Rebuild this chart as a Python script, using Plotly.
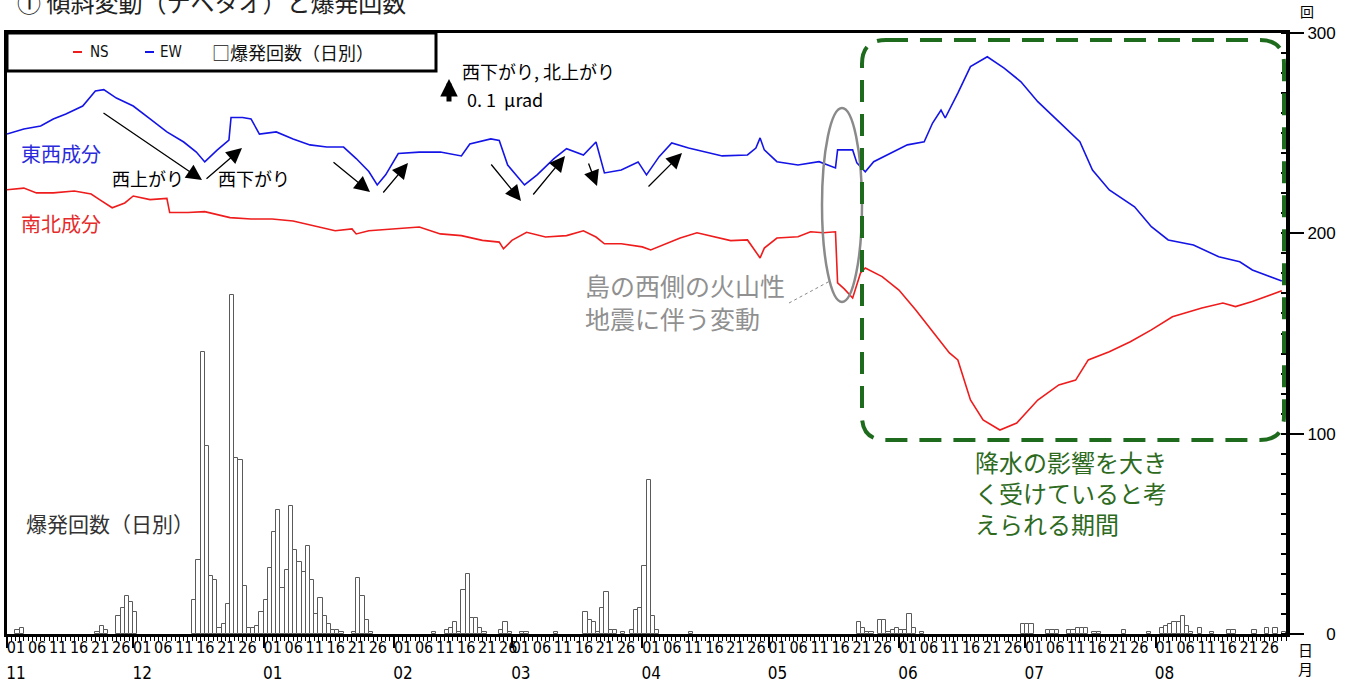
import pandas as pd
import plotly.graph_objects as go

# ---------------- data ----------------
month_labels = ["11", "12", "01", "02", "03", "04", "05", "06", "07", "08"]
day_labels = ["01", "06", "11", "16", "21", "26"]

# daily explosion counts (days not listed: 0)
bar_dates = [
    "2020-11-03", "2020-11-04", "2020-11-22", "2020-11-23", "2020-11-24",
    "2020-11-27", "2020-11-28", "2020-11-29", "2020-11-30", "2020-12-01",
    "2020-12-15", "2020-12-16", "2020-12-17", "2020-12-18", "2020-12-19",
    "2020-12-20", "2020-12-21", "2020-12-22", "2020-12-23", "2020-12-24",
    "2020-12-25", "2020-12-26", "2020-12-27", "2020-12-28", "2020-12-29",
    "2020-12-30", "2020-12-31", "2021-01-01", "2021-01-02", "2021-01-03",
    "2021-01-04", "2021-01-05", "2021-01-06", "2021-01-07", "2021-01-08",
    "2021-01-09", "2021-01-10", "2021-01-11", "2021-01-12", "2021-01-13",
    "2021-01-14", "2021-01-15", "2021-01-16", "2021-01-17", "2021-01-18",
    "2021-01-19", "2021-01-22", "2021-01-23", "2021-01-24", "2021-01-25",
    "2021-01-26", "2021-02-10", "2021-02-13", "2021-02-14", "2021-02-15",
    "2021-02-16", "2021-02-17", "2021-02-18", "2021-02-19", "2021-02-20",
    "2021-02-21", "2021-02-22", "2021-02-26", "2021-02-27", "2021-02-28",
    "2021-03-03", "2021-03-04", "2021-03-11", "2021-03-18", "2021-03-19",
    "2021-03-20", "2021-03-21", "2021-03-22", "2021-03-23", "2021-03-24",
    "2021-03-25", "2021-03-27", "2021-03-29", "2021-03-30", "2021-03-31",
    "2021-04-01", "2021-04-02", "2021-04-03", "2021-04-04", "2021-04-12",
    "2021-05-22", "2021-05-23", "2021-05-24", "2021-05-25", "2021-05-27",
    "2021-05-28", "2021-05-29", "2021-05-30", "2021-05-31", "2021-06-01",
    "2021-06-02", "2021-06-03", "2021-06-04", "2021-06-06", "2021-06-30",
    "2021-07-01", "2021-07-02", "2021-07-06", "2021-07-07", "2021-07-08",
    "2021-07-11", "2021-07-12", "2021-07-13", "2021-07-14", "2021-07-15",
    "2021-07-17", "2021-07-18", "2021-07-24", "2021-07-30", "2021-08-02",
    "2021-08-03", "2021-08-04", "2021-08-05", "2021-08-06", "2021-08-07",
    "2021-08-08", "2021-08-09", "2021-08-11", "2021-08-14", "2021-08-18",
    "2021-08-19", "2021-08-24", "2021-08-27", "2021-08-29", "2021-08-31",
]
bar_counts = [
    2, 3, 1, 4, 2,
    9, 13, 19, 16, 11,
    17, 37, 141, 94, 29,
    27, 3, 5, 15, 169,
    88, 87, 24, 3, 3,
    4, 11, 17, 33, 51,
    62, 23, 32, 64, 42,
    36, 31, 44, 27, 10,
    18, 9, 5, 2, 2,
    1, 1, 28, 19, 7,
    1, 1, 2, 3, 6,
    1, 22, 30, 8, 8,
    3, 1, 2, 6, 1,
    1, 1, 1, 11, 7,
    6, 1, 13, 21, 2,
    2, 1, 2, 12, 13,
    34, 77, 9, 2, 1,
    6, 3, 1, 1, 7,
    7, 1, 2, 3, 2,
    2, 10, 3, 1, 5,
    5, 5, 2, 2, 2,
    2, 2, 3, 3, 3,
    1, 1, 2, 1, 3,
    4, 5, 6, 6, 9,
    4, 1, 3, 1, 2,
    2, 2, 3, 3, 1,
]

# tilt, east-west component (μrad, arbitrary offset)
ew_dates = [
    "2020-11-01", "2020-11-05", "2020-11-09", "2020-11-12", "2020-11-15",
    "2020-11-19", "2020-11-22", "2020-11-24", "2020-11-27", "2020-12-01",
    "2020-12-05", "2020-12-09", "2020-12-13", "2020-12-16", "2020-12-18",
    "2020-12-21", "2020-12-23 18:00", "2020-12-24 06:00", "2020-12-27", "2020-12-29",
    "2020-12-31", "2021-01-04", "2021-01-08", "2021-01-12", "2021-01-16",
    "2021-01-20", "2021-01-23", "2021-01-26", "2021-01-28", "2021-01-30",
    "2021-02-02", "2021-02-07", "2021-02-12", "2021-02-17", "2021-02-19",
    "2021-02-24", "2021-02-26", "2021-02-28", "2021-03-04", "2021-03-07",
    "2021-03-11", "2021-03-14", "2021-03-18", "2021-03-21", "2021-03-23",
    "2021-03-27", "2021-03-31", "2021-04-02", "2021-04-05", "2021-04-08",
    "2021-04-12", "2021-04-16", "2021-04-20", "2021-04-26", "2021-04-28",
    "2021-04-29", "2021-04-30", "2021-05-03", "2021-05-08", "2021-05-13",
    "2021-05-16 22:00", "2021-05-17 10:00", "2021-05-21", "2021-05-22", "2021-05-24",
    "2021-05-26", "2021-05-30", "2021-06-03", "2021-06-07", "2021-06-09",
    "2021-06-11", "2021-06-12", "2021-06-15", "2021-06-18", "2021-06-22",
    "2021-06-26", "2021-06-30", "2021-07-04", "2021-07-09", "2021-07-14",
    "2021-07-17", "2021-07-21", "2021-07-27", "2021-07-31", "2021-08-04",
    "2021-08-10", "2021-08-16", "2021-08-21", "2021-08-24", "2021-08-31",
]
ew_tilt = [
    2.083, 2.104, 2.117, 2.146, 2.167,
    2.200, 2.263, 2.268, 2.233, 2.200,
    2.146, 2.092, 2.050, 2.008, 1.967,
    2.017, 2.058, 2.152, 2.152, 2.146,
    2.083, 2.092, 2.063, 2.038, 2.029,
    2.029, 1.981, 1.927, 1.871, 1.913,
    2.002, 2.008, 2.008, 1.992, 2.042,
    2.063, 2.056, 1.954, 1.871, 1.913,
    1.981, 2.022, 1.996, 2.050, 1.921,
    1.933, 1.967, 1.913, 1.989, 2.046,
    2.025, 2.010, 1.992, 1.996, 2.025,
    2.067, 2.017, 1.968, 1.954, 1.968,
    1.942, 2.017, 2.017, 1.963, 1.926,
    1.968, 2.004, 2.038, 2.051, 2.129,
    2.183, 2.150, 2.254, 2.364, 2.405,
    2.358, 2.301, 2.218, 2.135, 2.051,
    1.933, 1.850, 1.780, 1.697, 1.642,
    1.621, 1.572, 1.551, 1.517, 1.471,
]

# tilt, north-south component (μrad, arbitrary offset)
ns_dates = [
    "2020-11-01", "2020-11-05", "2020-11-08", "2020-11-12", "2020-11-17",
    "2020-11-21", "2020-11-23", "2020-11-26", "2020-11-29", "2020-12-01",
    "2020-12-05", "2020-12-09 00:00", "2020-12-09 16:00", "2020-12-14", "2020-12-18",
    "2020-12-24", "2020-12-29", "2021-01-03", "2021-01-08", "2021-01-13",
    "2021-01-18", "2021-01-22", "2021-01-23", "2021-01-26", "2021-02-02",
    "2021-02-07", "2021-02-12", "2021-02-17", "2021-02-22", "2021-02-26",
    "2021-02-27", "2021-03-01", "2021-03-04 12:00", "2021-03-09", "2021-03-14",
    "2021-03-18", "2021-03-21", "2021-03-23", "2021-03-27", "2021-04-01",
    "2021-04-03", "2021-04-07", "2021-04-10", "2021-04-14", "2021-04-18",
    "2021-04-22", "2021-04-26", "2021-04-29", "2021-04-30", "2021-05-03",
    "2021-05-08", "2021-05-11", "2021-05-14", "2021-05-16 22:00", "2021-05-17 10:00",
    "2021-05-19", "2021-05-21", "2021-05-22 21:00", "2021-05-24", "2021-05-28",
    "2021-06-01", "2021-06-05", "2021-06-09", "2021-06-13", "2021-06-15",
    "2021-06-18", "2021-06-21", "2021-06-25", "2021-06-29", "2021-07-04",
    "2021-07-09", "2021-07-13", "2021-07-16", "2021-07-21", "2021-07-26",
    "2021-07-31", "2021-08-05", "2021-08-12", "2021-08-17", "2021-08-20",
    "2021-08-24", "2021-08-31",
]
ns_tilt = [
    1.851, 1.858, 1.838, 1.838, 1.846,
    1.833, 1.810, 1.776, 1.796, 1.825,
    1.810, 1.815, 1.756, 1.756, 1.760,
    1.735, 1.729, 1.729, 1.721, 1.701,
    1.680, 1.688, 1.667, 1.680, 1.688,
    1.696, 1.667, 1.660, 1.640, 1.633,
    1.605, 1.640, 1.674, 1.654, 1.660,
    1.680, 1.654, 1.626, 1.626, 1.613,
    1.600, 1.629, 1.650, 1.672, 1.655,
    1.639, 1.642, 1.567, 1.608, 1.650,
    1.655, 1.676, 1.672, 1.676, 1.463,
    1.438, 1.400, 1.504, 1.525, 1.489,
    1.433, 1.350, 1.260, 1.171, 1.142,
    0.975, 0.892, 0.850, 0.879, 0.975,
    1.038, 1.058, 1.142, 1.176, 1.218,
    1.267, 1.322, 1.358, 1.379, 1.364,
    1.385, 1.430,
]

# ---------------- layout geometry ----------------
W, H = 1353, 684
L, R, T, B = 7, 1286, 33, 634          # plot area in pixels
TILT_PX_PER_URAD = 240.0               # vertical scale of the tilt traces
X_START, X_END = "2020-11-01", "2021-09-01"


def px(x):
    return (x - L) / (R - L)


def py(y):
    return (B - y) / (B - T)


month_starts = pd.date_range("2020-11-01", "2021-08-01", freq="MS")
tick_vals, tick_text = [], []
for m in month_starts:
    for lab in day_labels:
        tick_vals.append((m + pd.Timedelta(days=int(lab) - 1)).strftime("%Y-%m-%d"))
        tick_text.append(lab)
month_vals = [m.strftime("%Y-%m-%d") for m in month_starts]

JP = "Noto Sans CJK JP"
NUM = "Liberation Sans Narrow, DejaVu Sans Condensed, Liberation Sans, sans-serif"

fig = go.Figure()

fig.add_trace(go.Bar(
    x=bar_dates, y=bar_counts, offset=0, width=86400000,
    marker=dict(color="white", line=dict(color="#5a5a5a", width=1)),
    xaxis="x", yaxis="y", showlegend=False, name="爆発回数（日別）",
))
fig.add_trace(go.Scatter(
    x=ns_dates, y=ns_tilt, mode="lines", name="NS",
    line=dict(color="#ee1c1c", width=1.6), xaxis="x", yaxis="y2", showlegend=False,
))
fig.add_trace(go.Scatter(
    x=ew_dates, y=ew_tilt, mode="lines", name="EW",
    line=dict(color="#1414e6", width=1.6), xaxis="x", yaxis="y2", showlegend=False,
))
# carrier trace for the month axis
fig.add_trace(go.Scatter(
    x=[X_START, X_END], y=[None, None], mode="lines", xaxis="x2", yaxis="y",
    showlegend=False, hoverinfo="skip",
))

# ---------------- shapes ----------------
shapes = []
# legend frame
shapes.append(dict(type="rect", xref="paper", yref="paper",
                   x0=px(7), x1=px(436), y0=py(71), y1=py(33),
                   line=dict(color="black", width=3), fillcolor="white", layer="above"))
shapes.append(dict(type="line", xref="paper", yref="paper",
                   x0=px(73), x1=px(82), y0=py(52), y1=py(52),
                   line=dict(color="#ee1c1c", width=2)))
shapes.append(dict(type="line", xref="paper", yref="paper",
                   x0=px(145), x1=px(154), y0=py(52), y1=py(52),
                   line=dict(color="#1414e6", width=2)))
# ellipse around the step
shapes.append(dict(type="circle", xref="paper", yref="paper",
                   x0=px(822), x1=px(862), y0=py(302), y1=py(108),
                   line=dict(color="#8a8a8a", width=2.5)))
# leader line
shapes.append(dict(type="line", xref="paper", yref="paper",
                   x0=px(789), y0=py(303), x1=px(830), y1=py(281),
                   line=dict(color="#888888", width=1, dash="dot")))
# rounded dashed frame for the rain-affected period
bl, br, bt, bb, rr = 862, 1284, 40, 440, 24
rx, ry = rr / (R - L), rr / (B - T)
X0, X1, Y0, Y1 = px(bl), px(br), py(bb), py(bt)
path = (f"M {X0+rx},{Y1} L {X1-rx},{Y1} Q {X1},{Y1} {X1},{Y1-ry} "
        f"L {X1},{Y0+ry} Q {X1},{Y0} {X1-rx},{Y0} "
        f"L {X0+rx},{Y0} Q {X0},{Y0} {X0},{Y0+ry} "
        f"L {X0},{Y1-ry} Q {X0},{Y1} {X0+rx},{Y1} Z")
shapes.append(dict(type="path", xref="paper", yref="paper", path=path,
                   line=dict(color="#1e6b1e", width=4, dash="22px,12px")))

# ---------------- annotations ----------------
ann = []


def text(x, y, s, size, color="black", family=JP, xanchor="left"):
    ann.append(dict(xref="paper", yref="paper", x=px(x), y=py(y), text=s,
                    showarrow=False, xanchor=xanchor, yanchor="middle",
                    align="left",
                    font=dict(family=family, size=size, color=color)))


text(15, 1, "① 傾斜変動（ナベタオ）と爆発回数", 24, "#222222")
text(88, 52, "NS", 15, "#111111", NUM)
text(158, 52, "EW", 15, "#111111", NUM)
text(210, 52, "□爆発回数（日別）", 18, "#111111")
text(19, 153, "東西成分", 20, "#2b2bdc")
text(19, 223, "南北成分", 20, "#e52b2b")
text(110, 178, "西上がり", 18)
text(216, 178, "西下がり", 18)
text(460, 71, "西下がり, 北上がり", 18)
text(465, 99, "0. 1  μrad", 18)
text(24, 523, "爆発回数（日別）", 21, "#333333")
text(583, 285, "島の西側の火山性", 25, "#909090")
text(583, 318, "地震に伴う変動", 25, "#909090")
text(973, 492, "降水の影響を大き<br>く受けていると考<br>えられる期間", 24, "#2d6a1e")
text(1307, 11, "回", 14, "black", JP, "center")
text(1305, 649, "日", 15, "black", JP, "center")
text(1305, 668, "月", 15, "black", JP, "center")

# trend arrows (tail -> tip, pixels)
trend_arrows = [
    ((102, 112), (202, 180)),
    ((205, 180), (242, 148)),
    ((332, 161), (370, 192)),
    ((382, 194), (408, 163)),
    ((490, 163), (521, 201)),
    ((532, 196), (565, 156)),
    ((588, 162), (597, 186)),
    ((647, 188), (682, 153)),
]
for (tx, ty), (hx, hy) in trend_arrows:
    ann.append(dict(xref="paper", yref="paper", x=px(hx), y=py(hy),
                    ax=tx - hx, ay=ty - hy, axref="pixel", ayref="pixel",
                    text="", showarrow=True, arrowhead=2, arrowsize=2.4,
                    arrowwidth=1.3, arrowcolor="black", standoff=0))

# 0.1 μrad scale arrow, drawn on the tilt axis
scale_top = (B - 79) / TILT_PX_PER_URAD
ann.append(dict(xref="paper", yref="y2", x=px(449), y=scale_top,
                axref="pixel", ayref="y2", ax=0, ay=scale_top - 0.1,
                text="", showarrow=True, arrowhead=2, arrowsize=0.7,
                arrowwidth=5, arrowcolor="black", standoff=0))

fig.update_layout(
    width=W, height=H,
    margin=dict(l=L, r=W - R, t=T, b=H - B, autoexpand=False),
    paper_bgcolor="white", plot_bgcolor="white",
    font=dict(family=JP, color="black"),
    bargap=0,
    showlegend=False,
    xaxis=dict(
        type="date", range=[X_START, X_END], anchor="y",
        tickmode="array", tickvals=tick_vals, ticktext=tick_text,
        ticks="outside", ticklen=4, tickwidth=1, tickcolor="black",
        minor=dict(dtick=86400000, tick0=X_START, ticks="outside", ticklen=4,
                   tickwidth=1, tickcolor="black", showgrid=False),
        showline=True, linewidth=3, linecolor="black", mirror=True,
        showgrid=False, zeroline=False, tickangle=0, ticklabelshift=9,
        ticklabelstandoff=-7,
        tickfont=dict(family=NUM, size=16, color="black"),
    ),
    xaxis2=dict(
        type="date", range=[X_START, X_END], overlaying="x", anchor="y", side="bottom",
        tickmode="array", tickvals=month_vals, ticktext=month_labels,
        ticks="outside", ticklen=13, tickwidth=2, tickcolor="black",
        showline=False, showgrid=False, zeroline=False, tickangle=0,
        ticklabelshift=9, ticklabelstandoff=11,
        tickfont=dict(family=NUM, size=17, color="black"),
    ),
    yaxis=dict(
        side="right", range=[0, 300], anchor="x",
        tickmode="array", tickvals=[0, 100, 200, 300],
        ticktext=["\u2007\u20070", "100", "200", "300"],
        ticks="outside", ticklen=14, tickwidth=2, tickcolor="black",
        minor=dict(dtick=10, ticks="inside", ticklen=5, tickwidth=1.5,
                   tickcolor="black", showgrid=False),
        showline=True, linewidth=4, linecolor="black",
        showgrid=False, zeroline=False,
        tickfont=dict(family="Liberation Sans, sans-serif", size=17, color="black"),
    ),
    yaxis2=dict(
        overlaying="y", side="left", anchor="x",
        range=[0, (B - T) / TILT_PX_PER_URAD],
        showline=True, linewidth=3, linecolor="black",
        showticklabels=False, ticks="", showgrid=False, zeroline=False,
    ),
    shapes=shapes,
    annotations=ann,
)

fig.write_html("out.html")
